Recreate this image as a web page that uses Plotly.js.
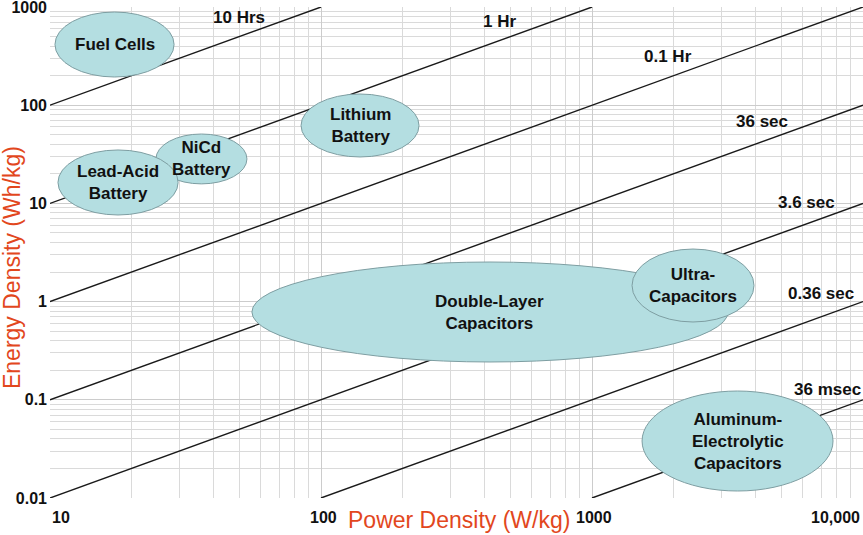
<!DOCTYPE html>
<html><head><meta charset="utf-8">
<script src="https://cdn.plot.ly/plotly-3.0.1.min.js"></script>
<style>html,body{margin:0;padding:0;background:#fff}</style>
</head><body><div id="chart" style="width:863px;height:535px"></div>
<script>
// Constant discharge-time lines (E = P * t, t in hours)
const lineLabels = ['10 Hrs', '1 Hr', '0.1 Hr', '36 sec', '3.6 sec', '0.36 sec', '36 msec'];
const lineHours = [10, 1, 0.1, 0.01, 0.001, 0.0001, 0.00001];
const lineStartP = [10, 10, 10, 10, 10, 100, 1000];
const lineEndP = [100, 1000, 10000, 10000, 10000, 10000, 10000];
const lineLabelP = [50, 457, 1905, 4240, 6170, 7000, 7400];
const lineLabelE = [773, 720, 310, 69, 10.1, 1.22, 0.126];

// Technology regions (power density W/kg, energy density Wh/kg)
const techNames = ['Double-Layer<br>Capacitors', 'Ultra-<br>Capacitors', 'Fuel Cells', 'Lithium<br>Battery',
  'NiCd<br>Battery', 'Lead-Acid<br>Battery', 'Aluminum-<br>Electrolytic<br>Capacitors'];
const techPmin = [55.6, 1405, 10.43, 84.4, 24.6, 10.7, 1530];
const techPmax = [3176, 3961, 28.7, 230, 53.3, 29.7, 7752];
const techEmin = [0.2427, 0.620, 193.7, 29.7, 15.8, 7.62, 0.01178];
const techEmax = [2.53, 3.43, 889, 130, 50.9, 35.0, 0.1229];

const xTickVals = [10, 100, 1000, 10000];
const xTickText = ['10', '100', '1000', '10,000'];
const xTickAnchor = ['left', 'center', 'center', 'right'];
const yTickVals = [0.01, 0.1, 1, 10, 100, 1000];
const yTickText = ['0.01', '0.1', '1', '10', '100', '1000'];

const FONT = 'Liberation Sans, Arial, sans-serif';
const titleColor = '#e2471d';

const traces = lineHours.map((h, i) => ({
  type: 'scatter', mode: 'lines',
  x: [lineStartP[i], lineEndP[i]],
  y: [lineStartP[i] * h, lineEndP[i] * h],
  line: {color: '#1a1a1a', width: 1.4},
  hoverinfo: 'skip', showlegend: false
}));

const shapes = techNames.map((n, i) => ({
  type: 'circle', xref: 'x', yref: 'y',
  x0: techPmin[i], x1: techPmax[i], y0: techEmin[i], y1: techEmax[i],
  fillcolor: '#b4dee1', line: {color: '#7e9ea2', width: 1}, layer: 'above'
}));

const annotations = [];
techNames.forEach((n, i) => {
  annotations.push({
    xref: 'x', yref: 'y',
    x: (Math.log10(techPmin[i]) + Math.log10(techPmax[i])) / 2,
    y: (Math.log10(techEmin[i]) + Math.log10(techEmax[i])) / 2,
    text: '<b>' + n + '</b>', showarrow: false,
    font: {family: FONT, size: 17, color: '#111'}
  });
});
lineLabels.forEach((t, i) => {
  annotations.push({
    xref: 'x', yref: 'y', x: Math.log10(lineLabelP[i]), y: Math.log10(lineLabelE[i]),
    text: '<b>' + t + '</b>', showarrow: false,
    font: {family: FONT, size: 17, color: '#111'}
  });
});
xTickVals.forEach((v, i) => {
  annotations.push({
    xref: 'x', yref: 'paper', x: Math.log10(v), y: 0, yshift: -9,
    xanchor: xTickAnchor[i], yanchor: 'top', xshift: (i === 1 || i === 2) ? 2 : (i === 3 ? -1 : 0),
    text: '<b>' + xTickText[i] + '</b>', showarrow: false,
    font: {family: FONT, size: 16, color: '#111'}
  });
});
annotations.push({
  xref: 'paper', yref: 'paper', x: 0.503, y: -0.015, xanchor: 'center', yanchor: 'top',
  text: 'Power Density (W/kg)', showarrow: false,
  font: {family: FONT, size: 23, color: titleColor}
});
annotations.push({
  xref: 'paper', yref: 'paper', x: -0.047, y: 0.47, xanchor: 'center', yanchor: 'middle',
  text: 'Energy Density (Wh/kg)', showarrow: false, textangle: -90,
  font: {family: FONT, size: 23, color: titleColor}
});

const layout = {
  width: 863, height: 535,
  margin: {l: 50, r: 0, t: 7, b: 37},
  paper_bgcolor: '#fff', plot_bgcolor: '#fff',
  showlegend: false,
  xaxis: {
    type: 'log', range: [1, 4], tickmode: 'array', tickvals: xTickVals, showticklabels: false,
    showgrid: true, gridcolor: '#cccccc', gridwidth: 1, zeroline: false, showline: false,
    ticks: '',
    minor: {dtick: 'D1', showgrid: true, gridcolor: '#dadada', gridwidth: 1, ticks: ''}
  },
  yaxis: {
    type: 'log', range: [-2, 3], tickmode: 'array', tickvals: yTickVals, ticktext: yTickText,
    showgrid: true, gridcolor: '#cccccc', gridwidth: 1, zeroline: false, showline: false,
    ticks: '', ticklabelstandoff: 2, ticklabeloverflow: 'allow',
    tickfont: {family: FONT, size: 16, color: '#111', weight: 'bold'},
    minor: {dtick: 'D1', showgrid: true, gridcolor: '#dadada', gridwidth: 1, ticks: ''}
  },
  shapes: shapes,
  annotations: annotations
};

Plotly.newPlot('chart', traces, layout, {displayModeBar: false, staticPlot: true});
</script>
</body></html>
